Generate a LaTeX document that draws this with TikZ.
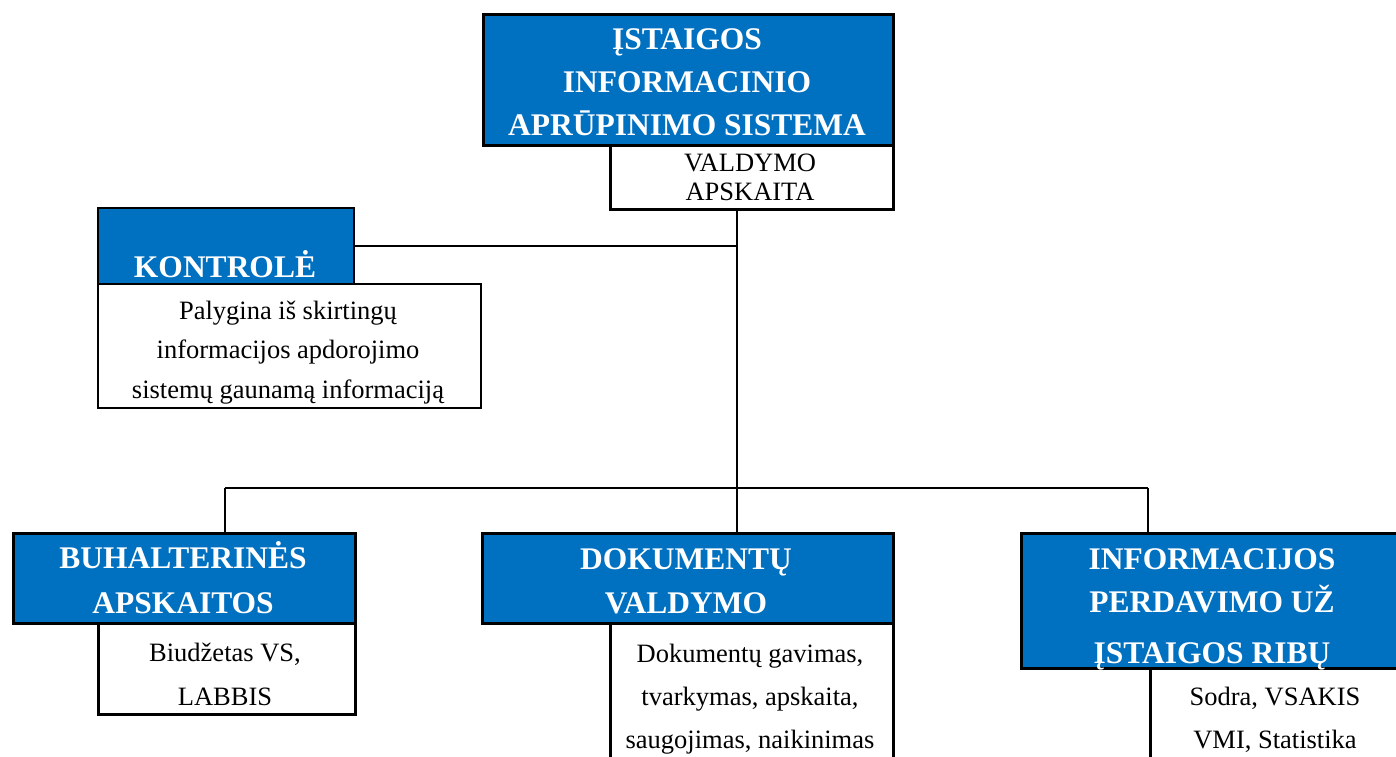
\documentclass[tikz,border=0pt]{standalone}
\usepackage{fontspec}
\setmainfont{Liberation Serif}
\definecolor{wblue}{HTML}{0070C0}
\begin{document}
\begin{tikzpicture}[x=1pt,y=-1pt,
  bluebox/.style={draw=black, fill=wblue, line width=3pt, inner sep=0pt, anchor=north west},
  whitebox/.style={draw=black, fill=white, line width=2.5pt, inner sep=0pt, anchor=north west},
  ttl/.style={text=white, font=\fontsize{31.5}{44}\selectfont\bfseries, align=center, inner sep=0pt, anchor=base},
  txt/.style={text=black, font=\fontsize{26.5}{43}\selectfont, align=center, inner sep=0pt, anchor=base},
  conn/.style={line width=2pt}]
\useasboundingbox (0,0) rectangle (1396,756);
\clip (0,0) rectangle (1396,756);
% coordinates of the connector network
\coordinate (j1) at (737,246);
\coordinate (bus) at (737,488);
\coordinate (busL) at (225,488);
\coordinate (busR) at (1148,488);
% boxes
\node[bluebox, minimum width=410pt, minimum height=131pt] (top) at (482,13) {};
\node[whitebox, minimum width=283pt, minimum height=64pt] (val) at (609,144) {};
\node[bluebox, line width=2.3pt, minimum width=256pt, minimum height=76pt] (kon) at (97,207) {};
\node[whitebox, line width=2.3pt, minimum width=383pt, minimum height=124pt] (konw) at (97,283) {};
\node[whitebox, minimum width=257pt, minimum height=91pt] (buhw) at (97,622) {};
\node[bluebox, minimum width=342pt, minimum height=90pt] (buh) at (12,532) {};
\node[whitebox, minimum width=283pt, minimum height=200pt] (dokw) at (609,622) {};
\node[bluebox, minimum width=411pt, minimum height=90pt] (dok) at (481,532) {};
\node[whitebox, minimum width=252pt, minimum height=150pt] (infw) at (1149,667) {};
\node[bluebox, minimum width=384pt, minimum height=135pt] (inf) at (1020,532) {};
% connectors
\draw[conn] (val.south -| j1) -- (bus);
\draw[conn] (kon.east |- j1) -- (j1);
\draw[conn] (busL) -- (busR);
\draw[conn] (busL) -- (buh.north -| busL);
\draw[conn] (bus) -- (dok.north -| bus);
\draw[conn] (busR) -- (inf.north -| busR);
% texts (anchored at the baseline of the last line)
\node[ttl, font=\fontsize{31.5}{43}\selectfont\bfseries] (topt) at (687,135) {ĮSTAIGOS\\INFORMACINIO\\APRŪPINIMO SISTEMA};
\node[txt, font=\fontsize{26.5}{29}\selectfont] (valt) at (750,200) {VALDYMO\\APSKAITA};
\node[ttl] (kont) at (225,277) {KONTROLĖ};
\node[txt, font=\fontsize{26.5}{39.5}\selectfont] (konwt) at (288,398) {Palygina iš skirtingų\\informacijos apdorojimo\\sistemų gaunamą informaciją};
\node[ttl, font=\fontsize{31.5}{45}\selectfont\bfseries] (buht) at (183,613) {BUHALTERINĖS\\APSKAITOS};
\node[txt, font=\fontsize{26.5}{44}\selectfont] (buhwt) at (225,705) {Biudžetas VS,\\LABBIS};
\node[ttl] (dokt) at (686,613) {DOKUMENTŲ\\VALDYMO};
\node[txt] (dokwt) at (750,748) {Dokumentų gavimas,\\tvarkymas, apskaita,\\saugojimas, naikinimas};
\node[ttl, font=\fontsize{31.5}{43}\selectfont\bfseries] (inft) at (1212,663) {INFORMACIJOS\\PERDAVIMO UŽ\\[8pt]ĮSTAIGOS RIBŲ};
\node[txt] (infwt) at (1275,748) {Sodra, VSAKIS\\VMI, Statistika};
\end{tikzpicture}
\end{document}
